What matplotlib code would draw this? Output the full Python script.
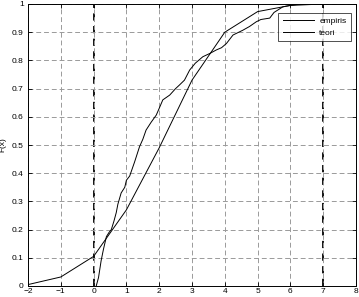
import matplotlib
matplotlib.use("Agg")
import matplotlib.pyplot as plt

# Theoretical CDF (teori), read at integer x
teori_x = [-2, -1, 0, 1, 2, 3, 4, 5, 6, 7]
teori_y = [0.005, 0.032, 0.105, 0.27, 0.49, 0.73, 0.90, 0.973, 0.995, 1.0]

emp_x = [0.08, 0.15, 0.23, 0.30, 0.39, 0.47, 0.54, 0.62, 0.69, 0.74, 0.84, 0.95,
         1.00, 1.10, 1.25, 1.40, 1.50, 1.60, 1.75, 1.91, 2.00, 2.11, 2.32, 2.50,
         2.62, 2.77, 2.93, 3.10, 3.33, 3.55, 3.74, 3.90, 4.05, 4.25, 4.55, 4.75,
         4.96, 5.10, 5.37, 5.50, 5.77, 6.00, 6.30, 6.95]
emp_y = [0.0, 0.03, 0.09, 0.13, 0.175, 0.19, 0.20, 0.23, 0.26, 0.29, 0.33, 0.35,
         0.375, 0.39, 0.44, 0.494, 0.52, 0.553, 0.58, 0.606, 0.63, 0.66, 0.677, 0.70,
         0.713, 0.73, 0.766, 0.79, 0.813, 0.825, 0.837, 0.845, 0.86, 0.89, 0.907, 0.92,
         0.937, 0.945, 0.95, 0.97, 0.99, 0.995, 1.0, 1.0]

# Vertical marker lines
vlines_x = [0, 7]

xticks = [-2, -1, 0, 1, 2, 3, 4, 5, 6, 7, 8]
yticks = [0, 0.1, 0.2, 0.3, 0.4, 0.5, 0.6, 0.7, 0.8, 0.9, 1]
ytick_labels = ["0", "0.1", "0.2", "0.3", "0.4", "0.5", "0.6", "0.7", "0.8", "0.9", "1"]

plt.rcParams['font.family'] = ['Liberation Sans', 'DejaVu Sans']

fig = plt.figure(figsize=(3.59, 2.97), dpi=100)
ax = fig.add_axes([28/359, 11/297, 328/359, 282/297])

ax.plot(emp_x, emp_y, color='black', lw=0.7, label='empiris')
ax.plot(teori_x, teori_y, color='black', lw=0.7, label='teori')
for v in vlines_x:
    ax.axvline(v, color='black', lw=1.3, ls=(0, (4, 3)), zorder=1)

ax.set_xlim(-2, 8)
ax.set_ylim(0, 1)
ax.set_xticks(xticks)
ax.set_yticks(yticks)
ax.set_yticklabels(ytick_labels)
ax.grid(True, color='#9a9a9a', lw=0.7, ls=(0, (5, 3)))
ax.tick_params(direction='in', length=3, width=0.6, labelsize=6, pad=3,
               top=True, right=True)
ax.tick_params(axis='x', pad=1.5)
for s in ax.spines.values():
    s.set_linewidth(0.7)
ax.set_ylabel('F(x)', fontsize=6, labelpad=4)

leg = ax.legend(loc='upper right', fontsize=6, frameon=True, fancybox=False,
                edgecolor='black', handlelength=3.8, borderpad=0.5,
                labelspacing=0.5, handletextpad=0.6,
                bbox_to_anchor=(0.996, 0.982))
leg.get_frame().set_linewidth(0.6)

fig.savefig('out.png', dpi=100)
